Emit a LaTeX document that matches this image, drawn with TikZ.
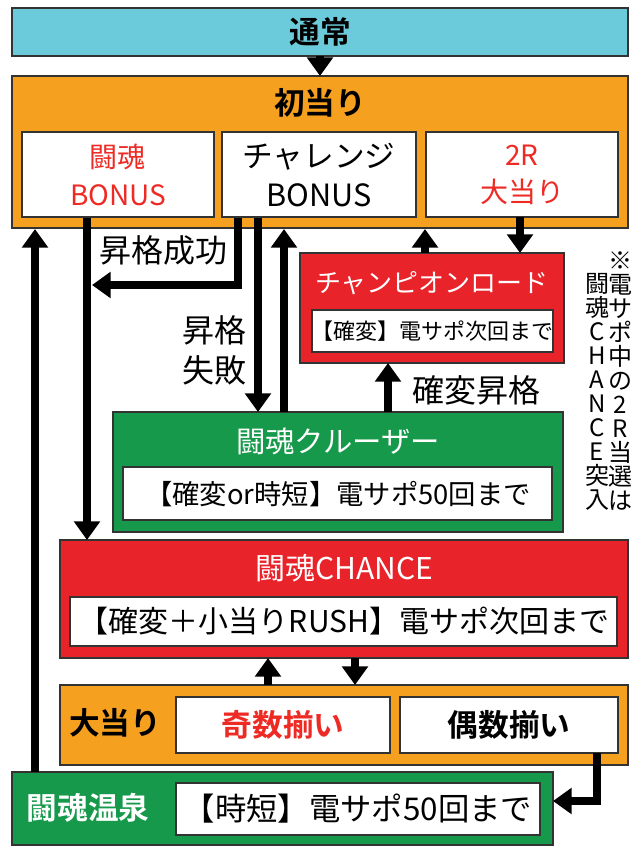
\documentclass[tikz,border=0pt]{standalone}
\usepackage{fontspec}
\setmainfont{Noto Sans CJK JP}[BoldFont={* Bold}]
\usetikzlibrary{arrows.meta}
\definecolor{cy}{HTML}{6CCBDA}
\definecolor{orn}{HTML}{F6A01F}
\definecolor{rd}{HTML}{E8232A}
\definecolor{gr}{HTML}{16994A}
\definecolor{rtxt}{HTML}{EE2A24}
\newcommand\fs[1]{\fontsize{#1}{#1}\selectfont}
\begin{document}
\begin{tikzpicture}[x=0.75pt,y=-0.75pt,
  box/.style={draw=black!80,line width=1.2pt},
  wb/.style={box,fill=white},
  ttl/.style={font=\fs{23}\bfseries},
  txt/.style={font=\fontsize{23}{29}\selectfont,align=center},
  arr/.style={line width=6.5pt,-{Triangle[width=19pt,length=14pt]}},
  vt/.style={font=\fontsize{18}{18}\selectfont,align=center,inner sep=0pt}]
\useasboundingbox (0,0) rectangle (640,854);
% boxes
\draw[box,fill=cy] (12,8) rectangle (628,56);
\node[ttl] (tsujo) at (320,32) {通常};
\draw[box,fill=orn] (12,76) rectangle (628,228);
\node[ttl] (hatsu) at (320,103) {初当り};
\draw[wb] (22,132) rectangle (214,217);
\node[txt,text=rtxt,font=\fontsize{21}{28}\selectfont] (toukon) at (118,175) {闘魂\\BONUS};
\draw[wb] (222,132) rectangle (416,217);
\node[txt] (chal) at (319,175) {チャレンジ\\BONUS};
\draw[wb] (426,132) rectangle (618,217);
\node[txt,text=rtxt,font=\fontsize{21}{28}\selectfont] (tworound) at (522,175) {2R\\大当り};
% champion
\draw[box,fill=rd] (300,253) rectangle (564,363);
\node[text=white,font=\fs{19.5}] (champ) at (432,283) {チャンピオンロード};
\draw[wb] (312,310) rectangle (553,352);
\node[txt,font=\fs{16.5}] (champin) at (432,331) {【確変】電サポ次回まで};
% cruiser
\draw[box,fill=gr] (113,412) rectangle (563,532);
\node[text=white,font=\fs{22}] (cruiser) at (338,441) {闘魂クルーザー};
\draw[wb] (123,467) rectangle (552,520);
\node[txt,font=\fs{20.5}] (cruin) at (338,494) {【確変or時短】電サポ50回まで};
% chance
\draw[box,fill=rd] (60,540) rectangle (628,658);
\node[text=white,font=\fs{22.5}] (chance) at (344,568) {闘魂CHANCE};
\draw[wb] (70,597) rectangle (617,646);
\node[txt,font=\fs{22.5}] (chancein) at (344,621) {【確変＋小当りRUSH】電サポ次回まで};
% ootari
\draw[box,fill=orn] (60,685) rectangle (628,765);
\node[ttl] (oo) at (115,723) {大当り};
\draw[wb] (176,697) rectangle (390,753);
\node[text=rtxt,font=\fs{23}\bfseries] (kisu) at (283,725) {奇数揃い};
\draw[wb] (400,697) rectangle (618,753);
\node[font=\fs{23}\bfseries] (gusu) at (509,725) {偶数揃い};
% onsen
\draw[box,fill=gr] (12,772) rectangle (553,845);
\node[ttl,text=white] (onsen) at (88,808) {闘魂温泉};
\draw[wb] (176,783) rectangle (540,835);
\node[txt,font=\fs{23.5}] (onsenin) at (358,809) {【時短】電サポ50回まで};
% arrows
\draw[arr] (320,56) -- (320,76);
\draw[arr] (87,218) -- (87,540);
\draw[arr] (238,218) -- (238,285) -- (92,285);
\node[txt,font=\fs{24}] (seiko) at (163,250) {昇格成功};
\draw[arr] (258,218) -- (258,412);
\node[txt,font=\fontsize{24}{30}\selectfont] (shippai) at (214,350) {昇格\\失敗};
\draw[arr] (284,412) -- (284,229);
\draw[arr] (520,217) -- (520,253);
\draw[arr] (425,253) -- (425,229);
\draw[arr] (388,412) -- (388,363);
\node[txt,font=\fs{24}] (kakuhen) at (476,390) {確変昇格};
\draw[arr] (268,685) -- (268,658);
\draw[arr] (355,658) -- (355,685);
\draw[arr] (597,753) -- (597,801) -- (553,801);
\draw[arr] (35,772) -- (35,229);
% vertical notes
\node[vt,text width=18pt] (note1) at (620,381) {※\\電\\サ\\ポ\\中\\の\\2\\R\\当\\選\\は};
\node[vt,text width=18pt] (note2) at (597,392) {闘\\魂\\C\\H\\A\\N\\C\\E\\突\\入};
\end{tikzpicture}
\end{document}
